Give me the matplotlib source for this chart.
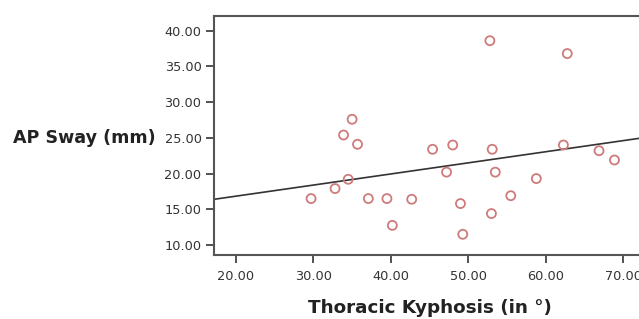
import numpy as np
import matplotlib
matplotlib.use("Agg")
import matplotlib.pyplot as plt

# thoracic kyphosis (deg) vs AP sway (mm)
kyphosis = [35.0, 33.9, 35.7, 34.5, 32.8, 29.7, 37.1, 39.5, 40.2,
            52.8, 62.8, 45.4, 48.0, 53.1, 62.3, 66.9, 68.9, 47.2,
            53.5, 58.8, 42.7, 55.5, 49.0, 53.0, 49.3]
ap_sway = [27.6, 25.4, 24.1, 19.2, 17.9, 16.5, 16.5, 16.5, 12.75,
           38.6, 36.8, 23.4, 24.0, 23.4, 24.0, 23.2, 21.9, 20.2,
           20.2, 19.3, 16.4, 16.9, 15.8, 14.4, 11.5]

# fit line as drawn
fit_intercept = 13.73
fit_slope = 0.1554

xticks = [20, 30, 40, 50, 60, 70]
yticks = [10, 15, 20, 25, 30, 35, 40]

plt.rcParams['font.family'] = ['DejaVu Sans']

fig = plt.figure(figsize=(6.39, 3.19), dpi=100)
W, H = 639, 319
ax = fig.add_axes([214 / W, (H - 255) / H, (646 - 214) / W, (255 - 16) / H])

ax.scatter(kyphosis, ap_sway, s=42, facecolors='none', edgecolors='#cf7b7b',
           linewidths=1.3, zorder=3)

xl = np.array([17.16, 72.97])
ax.plot(xl, fit_intercept + fit_slope * xl, color='#333333', lw=1.2, zorder=2)

ax.set_xlim(17.16, 72.97)
ax.set_ylim(8.6, 42.06)
ax.set_xticks(xticks)
ax.set_yticks(yticks)
ax.set_xticklabels(["%.2f" % v for v in xticks])
ax.set_yticklabels(["%.2f" % v for v in yticks])
ax.tick_params(direction='out', length=6, width=1.3, color='#444444',
               labelsize=9.3, labelcolor='#333333', pad=3)
ax.tick_params(axis='x', pad=5)

for s in ax.spines.values():
    s.set_color('#555555')
    s.set_linewidth(1.5)

ax.set_xlabel("Thoracic Kyphosis (in °)", fontsize=13.2, fontweight='bold',
              color='#222222', labelpad=11)
fig.text(13 / W, 1 - 138 / H, "AP Sway (mm)", fontsize=12.6, fontweight='bold',
         color='#222222', ha='left', va='center')

fig.savefig("out.png", dpi=100)
